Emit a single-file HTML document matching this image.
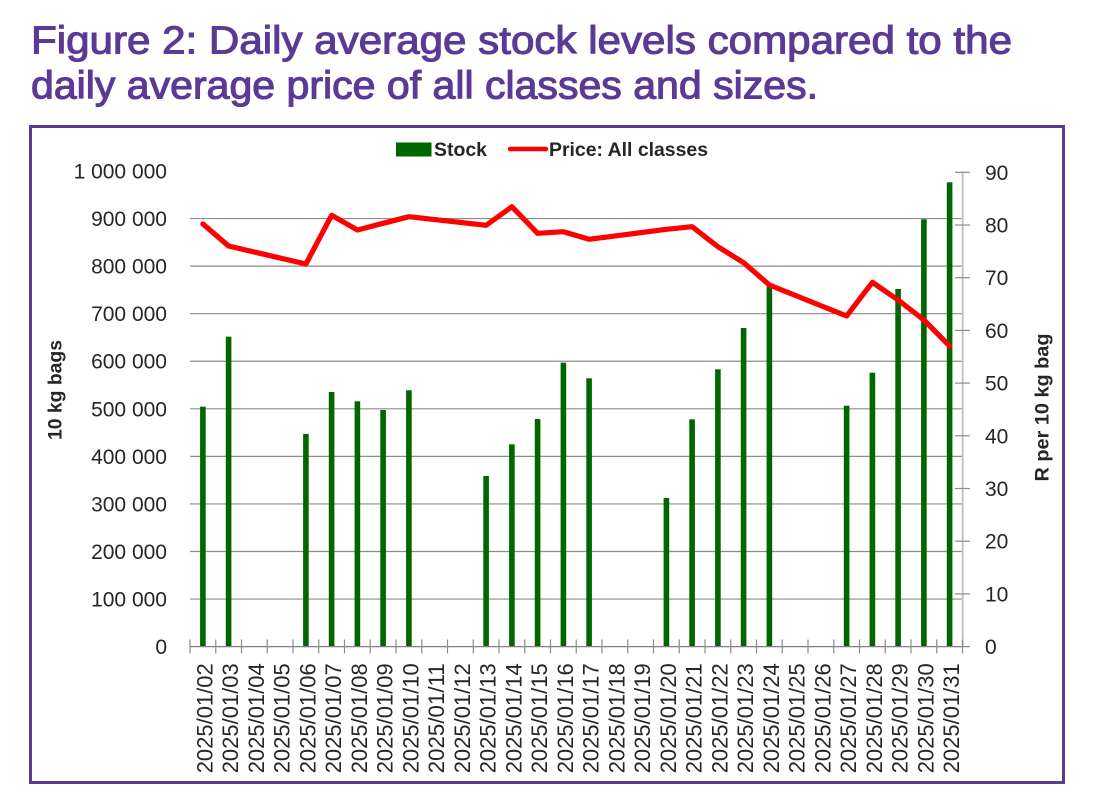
<!DOCTYPE html>
<html>
<head>
<meta charset="utf-8">
<style>
html,body{margin:0;padding:0;background:#fff;}
svg{display:block;}
text{font-family:"Liberation Sans",sans-serif;}
</style>
</head>
<body>
<svg width="1104" height="811" viewBox="0 0 1104 811" xmlns="http://www.w3.org/2000/svg">
  <!-- Title -->
  <text x="31" y="53.5" font-size="39" fill="#5B3A96" stroke="#5B3A96" stroke-width="1.1" textLength="981" lengthAdjust="spacingAndGlyphs">Figure 2: Daily average stock levels compared to the</text>
  <text x="31" y="98.5" font-size="39" fill="#5B3A96" stroke="#5B3A96" stroke-width="1.1" textLength="787" lengthAdjust="spacingAndGlyphs">daily average price of all classes and sizes.</text>

  <!-- Frame -->
  <rect x="30.5" y="126.5" width="1033" height="656" fill="none" stroke="#5B3A96" stroke-width="3"/>

  <!-- Legend -->
  <rect x="396" y="142.5" width="35.5" height="14" fill="#006600"/>
  <text x="434" y="156" font-size="19" font-weight="bold" fill="#262626" textLength="53" lengthAdjust="spacingAndGlyphs">Stock</text>
  <line x1="510" y1="149" x2="546" y2="149" stroke="#FF0000" stroke-width="4.5" stroke-linecap="round"/>
  <text x="549" y="156" font-size="19" font-weight="bold" fill="#262626" textLength="159" lengthAdjust="spacingAndGlyphs">Price: All classes</text>

  <!-- Gridlines -->
  <g stroke="#8c8c8c" stroke-width="1.2">
    <line x1="190" y1="599.04" x2="962" y2="599.04"/>
    <line x1="190" y1="551.48" x2="962" y2="551.48"/>
    <line x1="190" y1="503.92" x2="962" y2="503.92"/>
    <line x1="190" y1="456.36" x2="962" y2="456.36"/>
    <line x1="190" y1="408.8" x2="962" y2="408.8"/>
    <line x1="190" y1="361.24" x2="962" y2="361.24"/>
    <line x1="190" y1="313.68" x2="962" y2="313.68"/>
    <line x1="190" y1="266.12" x2="962" y2="266.12"/>
    <line x1="190" y1="218.56" x2="962" y2="218.56"/>
  </g>

  <!-- Left tick labels -->
  <g font-size="21" fill="#262626" text-anchor="end">
    <text x="167" y="654.1">0</text>
    <text x="167" y="606.5">100 000</text>
    <text x="167" y="559">200 000</text>
    <text x="167" y="511.4">300 000</text>
    <text x="167" y="463.9">400 000</text>
    <text x="167" y="416.3">500 000</text>
    <text x="167" y="368.7">600 000</text>
    <text x="167" y="321.2">700 000</text>
    <text x="167" y="273.6">800 000</text>
    <text x="167" y="226.1">900 000</text>
    <text x="167" y="178.5">1 000 000</text>
  </g>

  <!-- Right axis -->
  <line x1="962.7" y1="171.5" x2="962.7" y2="647" stroke="#c4c4c4" stroke-width="2"/>
  <g stroke="#8c8c8c" stroke-width="1.2">
    <line x1="955" y1="646.6" x2="970" y2="646.6"/>
    <line x1="955" y1="593.9" x2="970" y2="593.9"/>
    <line x1="955" y1="541.2" x2="970" y2="541.2"/>
    <line x1="955" y1="488.5" x2="970" y2="488.5"/>
    <line x1="955" y1="435.8" x2="970" y2="435.8"/>
    <line x1="955" y1="383.1" x2="970" y2="383.1"/>
    <line x1="955" y1="330.4" x2="970" y2="330.4"/>
    <line x1="955" y1="277.7" x2="970" y2="277.7"/>
    <line x1="955" y1="225" x2="970" y2="225"/>
    <line x1="955" y1="172.3" x2="970" y2="172.3"/>
  </g>
  <g font-size="21" fill="#262626">
    <text x="985" y="654.1">0</text>
    <text x="985" y="601.4">10</text>
    <text x="985" y="548.7">20</text>
    <text x="985" y="496">30</text>
    <text x="985" y="443.3">40</text>
    <text x="985" y="390.6">50</text>
    <text x="985" y="337.9">60</text>
    <text x="985" y="285.2">70</text>
    <text x="985" y="232.5">80</text>
    <text x="985" y="179.8">90</text>
  </g>

  <!-- Axis titles -->
  <text transform="translate(61.7,390) rotate(-90)" font-size="19" font-weight="bold" fill="#262626" text-anchor="middle" textLength="100" lengthAdjust="spacingAndGlyphs">10 kg bags</text>
  <text transform="translate(1048.3,407.5) rotate(-90)" font-size="19" font-weight="bold" fill="#262626" text-anchor="middle" textLength="148" lengthAdjust="spacingAndGlyphs">R per 10 kg bag</text>

  <!-- Bars -->
  <g fill="#006600">
    <rect x="200.1" y="406.7" width="5.6" height="239.9"/>
    <rect x="225.8" y="336.7" width="5.6" height="309.9"/>
    <rect x="303.1" y="434" width="5.6" height="212.6"/>
    <rect x="328.8" y="392" width="5.6" height="254.6"/>
    <rect x="354.6" y="401.3" width="5.6" height="245.3"/>
    <rect x="380.3" y="410" width="5.6" height="236.6"/>
    <rect x="406.1" y="390.3" width="5.6" height="256.3"/>
    <rect x="483.3" y="476" width="5.6" height="170.6"/>
    <rect x="509.1" y="444.3" width="5.6" height="202.3"/>
    <rect x="534.8" y="419" width="5.6" height="227.6"/>
    <rect x="560.6" y="362.7" width="5.6" height="283.9"/>
    <rect x="586.3" y="378.3" width="5.6" height="268.3"/>
    <rect x="663.6" y="498" width="5.6" height="148.6"/>
    <rect x="689.3" y="419.3" width="5.6" height="227.3"/>
    <rect x="715.1" y="369.3" width="5.6" height="277.3"/>
    <rect x="740.8" y="328" width="5.6" height="318.6"/>
    <rect x="766.6" y="286.7" width="5.6" height="359.9"/>
    <rect x="843.8" y="405.7" width="5.6" height="240.9"/>
    <rect x="869.6" y="372.7" width="5.6" height="273.9"/>
    <rect x="895.3" y="289" width="5.6" height="357.6"/>
    <rect x="921.1" y="219.3" width="5.6" height="427.3"/>
    <rect x="946.8" y="182.3" width="5.6" height="464.3"/>
  </g>

  <!-- X axis -->
  <line x1="190" y1="646.6" x2="962.7" y2="646.6" stroke="#808080" stroke-width="1.3"/>
  <g stroke="#8c8c8c" stroke-width="1.2">
    <line x1="190" y1="639.5" x2="190" y2="653.5"/>
    <line x1="215.75" y1="639.5" x2="215.75" y2="653.5"/>
    <line x1="241.5" y1="639.5" x2="241.5" y2="653.5"/>
    <line x1="267.25" y1="639.5" x2="267.25" y2="653.5"/>
    <line x1="293" y1="639.5" x2="293" y2="653.5"/>
    <line x1="318.75" y1="639.5" x2="318.75" y2="653.5"/>
    <line x1="344.5" y1="639.5" x2="344.5" y2="653.5"/>
    <line x1="370.25" y1="639.5" x2="370.25" y2="653.5"/>
    <line x1="396" y1="639.5" x2="396" y2="653.5"/>
    <line x1="421.75" y1="639.5" x2="421.75" y2="653.5"/>
    <line x1="447.5" y1="639.5" x2="447.5" y2="653.5"/>
    <line x1="473.25" y1="639.5" x2="473.25" y2="653.5"/>
    <line x1="499" y1="639.5" x2="499" y2="653.5"/>
    <line x1="524.75" y1="639.5" x2="524.75" y2="653.5"/>
    <line x1="550.5" y1="639.5" x2="550.5" y2="653.5"/>
    <line x1="576.25" y1="639.5" x2="576.25" y2="653.5"/>
    <line x1="602" y1="639.5" x2="602" y2="653.5"/>
    <line x1="627.75" y1="639.5" x2="627.75" y2="653.5"/>
    <line x1="653.5" y1="639.5" x2="653.5" y2="653.5"/>
    <line x1="679.25" y1="639.5" x2="679.25" y2="653.5"/>
    <line x1="705" y1="639.5" x2="705" y2="653.5"/>
    <line x1="730.75" y1="639.5" x2="730.75" y2="653.5"/>
    <line x1="756.5" y1="639.5" x2="756.5" y2="653.5"/>
    <line x1="782.25" y1="639.5" x2="782.25" y2="653.5"/>
    <line x1="808" y1="639.5" x2="808" y2="653.5"/>
    <line x1="833.75" y1="639.5" x2="833.75" y2="653.5"/>
    <line x1="859.5" y1="639.5" x2="859.5" y2="653.5"/>
    <line x1="885.25" y1="639.5" x2="885.25" y2="653.5"/>
    <line x1="911" y1="639.5" x2="911" y2="653.5"/>
    <line x1="936.75" y1="639.5" x2="936.75" y2="653.5"/>
    <line x1="962.5" y1="639.5" x2="962.5" y2="653.5"/>
  </g>

  <!-- Price line -->
  <polyline fill="none" stroke="#FF0000" stroke-width="5.2" stroke-linejoin="round" stroke-linecap="round"
    points="202.9,224 228.6,246 305.9,264 331.6,215.3 357.4,230 383.1,223.3 408.9,216.7 486.1,225.3 511.9,206.7 537.6,233.3 563.4,231.7 589.1,239.3 666.4,229.3 692.1,226.7 717.9,246.7 743.6,262.7 769.4,285 846.6,316 872.4,282.3 898.1,300 923.9,320 949.6,346"/>

  <!-- X labels -->
  <g font-size="22" fill="#262626" text-anchor="end">
    <text transform="translate(212.3,663.3) rotate(-90)" textLength="110" lengthAdjust="spacingAndGlyphs">2025/01/02</text>
    <text transform="translate(238.05,663.3) rotate(-90)" textLength="110" lengthAdjust="spacingAndGlyphs">2025/01/03</text>
    <text transform="translate(263.8,663.3) rotate(-90)" textLength="110" lengthAdjust="spacingAndGlyphs">2025/01/04</text>
    <text transform="translate(289.55,663.3) rotate(-90)" textLength="110" lengthAdjust="spacingAndGlyphs">2025/01/05</text>
    <text transform="translate(315.3,663.3) rotate(-90)" textLength="110" lengthAdjust="spacingAndGlyphs">2025/01/06</text>
    <text transform="translate(341.05,663.3) rotate(-90)" textLength="110" lengthAdjust="spacingAndGlyphs">2025/01/07</text>
    <text transform="translate(366.8,663.3) rotate(-90)" textLength="110" lengthAdjust="spacingAndGlyphs">2025/01/08</text>
    <text transform="translate(392.55,663.3) rotate(-90)" textLength="110" lengthAdjust="spacingAndGlyphs">2025/01/09</text>
    <text transform="translate(418.3,663.3) rotate(-90)" textLength="110" lengthAdjust="spacingAndGlyphs">2025/01/10</text>
    <text transform="translate(444.05,663.3) rotate(-90)" textLength="110" lengthAdjust="spacingAndGlyphs">2025/01/11</text>
    <text transform="translate(469.8,663.3) rotate(-90)" textLength="110" lengthAdjust="spacingAndGlyphs">2025/01/12</text>
    <text transform="translate(495.55,663.3) rotate(-90)" textLength="110" lengthAdjust="spacingAndGlyphs">2025/01/13</text>
    <text transform="translate(521.3,663.3) rotate(-90)" textLength="110" lengthAdjust="spacingAndGlyphs">2025/01/14</text>
    <text transform="translate(547.05,663.3) rotate(-90)" textLength="110" lengthAdjust="spacingAndGlyphs">2025/01/15</text>
    <text transform="translate(572.8,663.3) rotate(-90)" textLength="110" lengthAdjust="spacingAndGlyphs">2025/01/16</text>
    <text transform="translate(598.55,663.3) rotate(-90)" textLength="110" lengthAdjust="spacingAndGlyphs">2025/01/17</text>
    <text transform="translate(624.3,663.3) rotate(-90)" textLength="110" lengthAdjust="spacingAndGlyphs">2025/01/18</text>
    <text transform="translate(650.05,663.3) rotate(-90)" textLength="110" lengthAdjust="spacingAndGlyphs">2025/01/19</text>
    <text transform="translate(675.8,663.3) rotate(-90)" textLength="110" lengthAdjust="spacingAndGlyphs">2025/01/20</text>
    <text transform="translate(701.55,663.3) rotate(-90)" textLength="110" lengthAdjust="spacingAndGlyphs">2025/01/21</text>
    <text transform="translate(727.3,663.3) rotate(-90)" textLength="110" lengthAdjust="spacingAndGlyphs">2025/01/22</text>
    <text transform="translate(753.05,663.3) rotate(-90)" textLength="110" lengthAdjust="spacingAndGlyphs">2025/01/23</text>
    <text transform="translate(778.8,663.3) rotate(-90)" textLength="110" lengthAdjust="spacingAndGlyphs">2025/01/24</text>
    <text transform="translate(804.55,663.3) rotate(-90)" textLength="110" lengthAdjust="spacingAndGlyphs">2025/01/25</text>
    <text transform="translate(830.3,663.3) rotate(-90)" textLength="110" lengthAdjust="spacingAndGlyphs">2025/01/26</text>
    <text transform="translate(856.05,663.3) rotate(-90)" textLength="110" lengthAdjust="spacingAndGlyphs">2025/01/27</text>
    <text transform="translate(881.8,663.3) rotate(-90)" textLength="110" lengthAdjust="spacingAndGlyphs">2025/01/28</text>
    <text transform="translate(907.55,663.3) rotate(-90)" textLength="110" lengthAdjust="spacingAndGlyphs">2025/01/29</text>
    <text transform="translate(933.3,663.3) rotate(-90)" textLength="110" lengthAdjust="spacingAndGlyphs">2025/01/30</text>
    <text transform="translate(959.05,663.3) rotate(-90)" textLength="110" lengthAdjust="spacingAndGlyphs">2025/01/31</text>
  </g>
</svg>
</body>
</html>
